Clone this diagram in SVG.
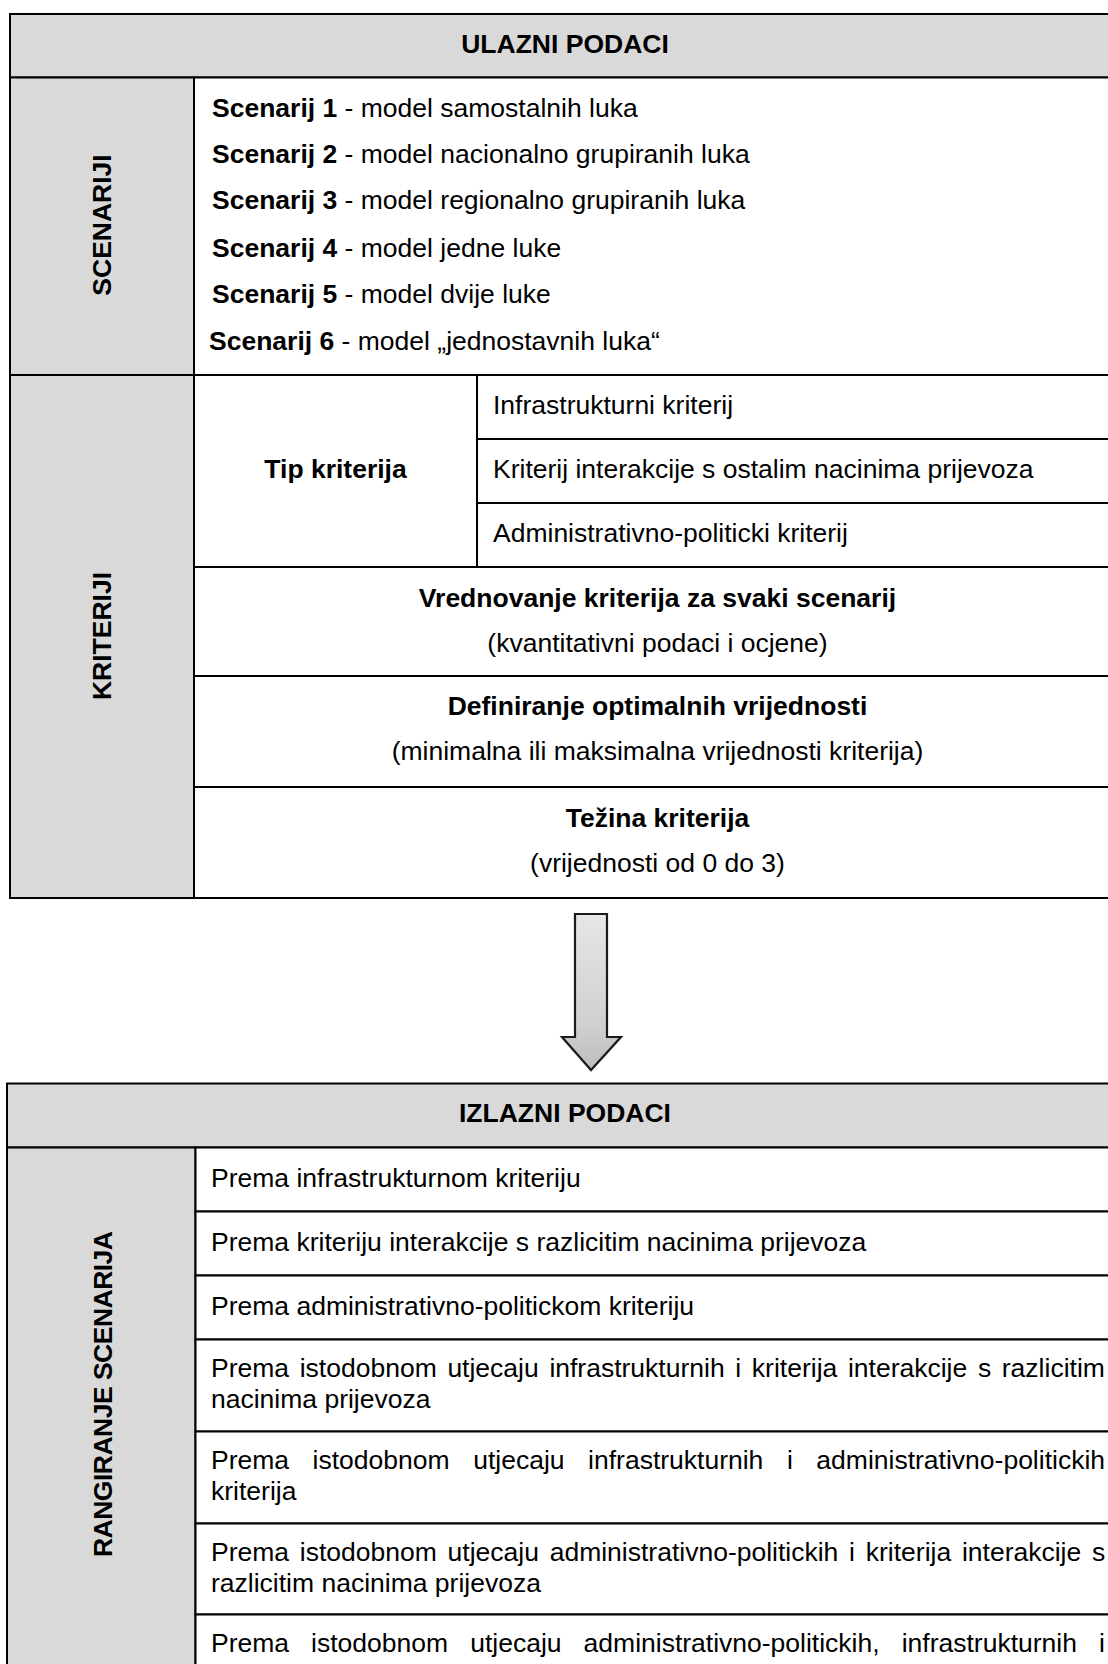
<svg xmlns="http://www.w3.org/2000/svg" width="1108" height="1664" viewBox="0 0 1108 1664">
<style>
.c{stroke:#000;stroke-width:2;fill:#fff}
.g{fill:#d9d9d9}
.t{font-family:"Liberation Sans",Arial,sans-serif;font-size:26.5px;fill:#000}
.b{font-weight:bold}
.m{text-anchor:middle}
</style>
<defs>
<linearGradient id="ag" x1="0" y1="0" x2="0" y2="1">
<stop offset="0" stop-color="#e6e6e6"/>
<stop offset="0.7" stop-color="#d0d0d0"/>
<stop offset="1" stop-color="#bdbdbd"/>
</linearGradient>
</defs>
<rect width="1108" height="1664" fill="#fff"/>

<g id="ulazni-header">
<rect class="c g" x="10" y="14" width="1112" height="63.5"/>
<text class="t b m" x="565" y="53">ULAZNI PODACI</text>
</g>
<g id="scenariji-label">
<rect class="c g" x="10" y="77.5" width="184" height="297.5"/>
<text class="t b m" transform="translate(111,225) rotate(-90)">SCENARIJI</text>
</g>
<g id="scenariji-list">
<rect class="c" x="194" y="77.5" width="928" height="297.5"/>
<text class="t" x="212" y="117"><tspan class="b">Scenarij 1</tspan> - model samostalnih luka</text>
<text class="t" x="212" y="163"><tspan class="b">Scenarij 2</tspan> - model nacionalno grupiranih luka</text>
<text class="t" x="212" y="209"><tspan class="b">Scenarij 3</tspan> - model regionalno grupiranih luka</text>
<text class="t" x="212" y="257"><tspan class="b">Scenarij 4</tspan> - model jedne luke</text>
<text class="t" x="212" y="303"><tspan class="b">Scenarij 5</tspan> - model dvije luke</text>
<text class="t" x="209" y="350"><tspan class="b">Scenarij 6</tspan> - model „jednostavnih luka“</text>
</g>
<g id="kriteriji-label">
<rect class="c g" x="10" y="375" width="184" height="523"/>
<text class="t b m" transform="translate(111,636) rotate(-90)">KRITERIJI</text>
</g>
<g id="tip-kriterija">
<rect class="c" x="194" y="375" width="283" height="192"/>
<text class="t b m" x="335.5" y="478">Tip kriterija</text>
</g>
<g id="infrastrukturni">
<rect class="c" x="477" y="375" width="645" height="64"/>
<text class="t" x="493" y="414">Infrastrukturni kriterij</text>
</g>
<g id="interakcije">
<rect class="c" x="477" y="439" width="645" height="64"/>
<text class="t" x="493" y="478">Kriterij interakcije s ostalim nacinima prijevoza</text>
</g>
<g id="administrativno">
<rect class="c" x="477" y="503" width="645" height="64"/>
<text class="t" x="493" y="542">Administrativno-politicki kriterij</text>
</g>
<g id="vrednovanje">
<rect class="c" x="194" y="567" width="928" height="109"/>
<text class="t b m" x="657.5" y="607">Vrednovanje kriterija za svaki scenarij</text>
<text class="t m" x="657.5" y="652">(kvantitativni podaci i ocjene)</text>
</g>
<g id="definiranje">
<rect class="c" x="194" y="676" width="928" height="111"/>
<text class="t b m" x="657.5" y="715">Definiranje optimalnih vrijednosti</text>
<text class="t m" x="657.5" y="760">(minimalna ili maksimalna vrijednosti kriterija)</text>
</g>
<g id="tezina">
<rect class="c" x="194" y="787" width="928" height="111"/>
<text class="t b m" x="657.5" y="827">Težina kriterija</text>
<text class="t m" x="657.5" y="872">(vrijednosti od 0 do 3)</text>
</g>

<g id="connectors">
<path d="M575,914 H607 V1037 H621 L591,1070 L562,1037 H575 Z" fill="url(#ag)" stroke="#1a1a1a" stroke-width="2.2" stroke-linejoin="miter"/>
</g>

<g id="izlazni-header">
<rect class="c g" x="7" y="1083.5" width="1115" height="64"/>
<text class="t b m" x="565" y="1122">IZLAZNI PODACI</text>
</g>
<g id="rangiranje-label">
<rect class="c g" x="7" y="1147.5" width="188.5" height="600"/>
<text class="t b m" transform="translate(112,1394) rotate(-90)" textLength="326" lengthAdjust="spacing">RANGIRANJE SCENARIJA</text>
</g>
<g id="r1">
<rect class="c" x="195.5" y="1147.5" width="927" height="64"/>
<text class="t" x="211" y="1187">Prema infrastrukturnom kriteriju</text>
</g>
<g id="r2">
<rect class="c" x="195.5" y="1211.5" width="927" height="64"/>
<text class="t" x="211" y="1251">Prema kriteriju interakcije s razlicitim nacinima prijevoza</text>
</g>
<g id="r3">
<rect class="c" x="195.5" y="1275.5" width="927" height="64"/>
<text class="t" x="211" y="1315">Prema administrativno-politickom kriteriju</text>
</g>
<g id="r4">
<rect class="c" x="195.5" y="1339.5" width="927" height="92"/>
<text class="t" x="211" y="1377" word-spacing="3.3">Prema istodobnom utjecaju infrastrukturnih i kriterija interakcije s razlicitim</text>
<text class="t" x="211" y="1408">nacinima prijevoza</text>
</g>
<g id="r5">
<rect class="c" x="195.5" y="1431.5" width="927" height="92"/>
<text class="t" x="211" y="1469" word-spacing="16.2">Prema istodobnom utjecaju infrastrukturnih i administrativno-politickih</text>
<text class="t" x="211" y="1500">kriterija</text>
</g>
<g id="r6">
<rect class="c" x="195.5" y="1523.5" width="927" height="91"/>
<text class="t" x="211" y="1561" word-spacing="3.4">Prema istodobnom utjecaju administrativno-politickih i kriterija interakcije s</text>
<text class="t" x="211" y="1592">razlicitim nacinima prijevoza</text>
</g>
<g id="r7">
<rect class="c" x="195.5" y="1614.5" width="927" height="100"/>
<text class="t" x="211" y="1652" word-spacing="14.7">Prema istodobnom utjecaju administrativno-politickih, infrastrukturnih i</text>
</g>
</svg>
